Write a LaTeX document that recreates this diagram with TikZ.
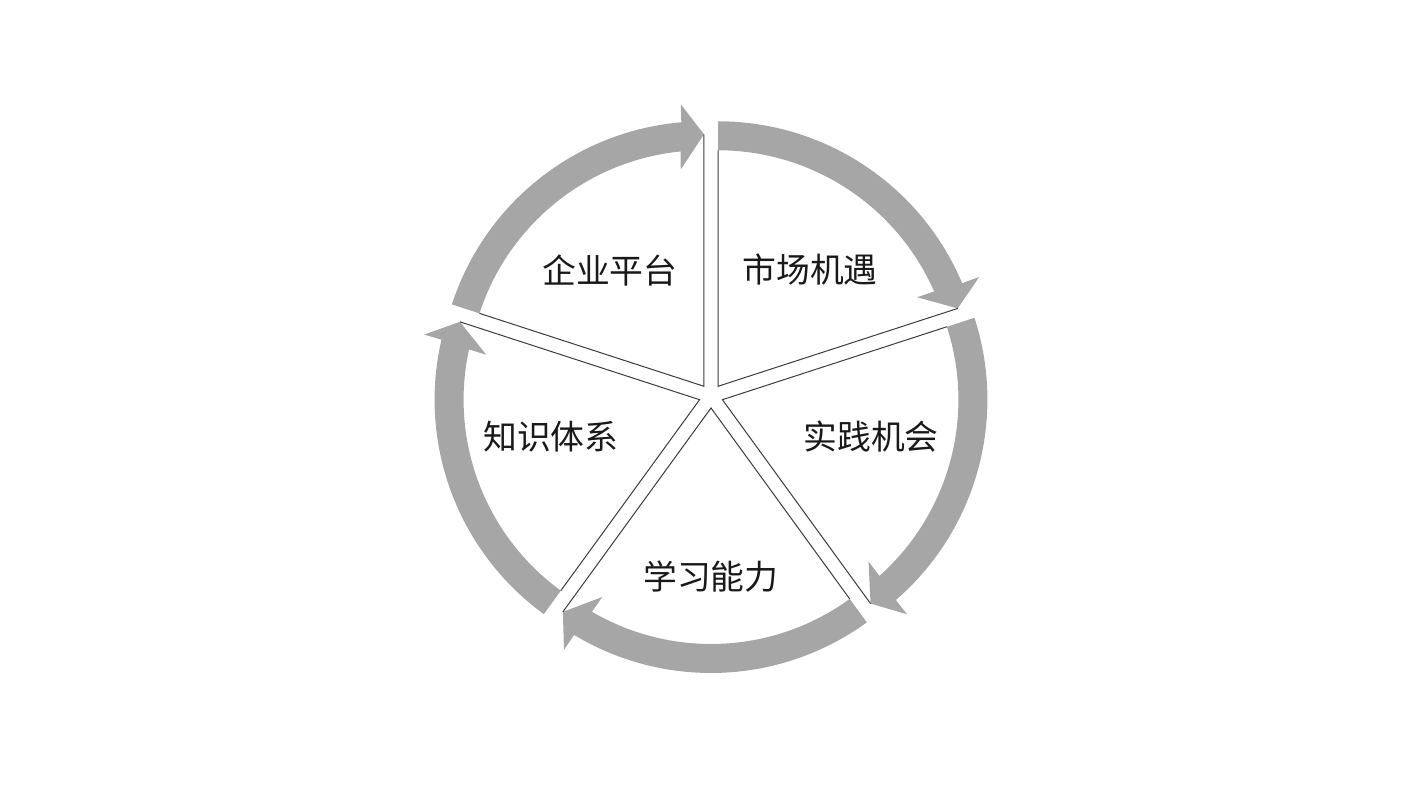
\documentclass[tikz,border=0pt]{standalone}
\usepackage{fontspec}
\newfontfamily\cjk{Noto Sans CJK SC}
\usetikzlibrary{calc}
\definecolor{ringgray}{RGB}{166,166,166}
\definecolor{edgegray}{RGB}{60,60,60}

\begin{document}
\begin{tikzpicture}[
    x=0.5pt, y=0.5pt,
    node font=\cjk\fontsize{16.9}{20}\selectfont,
    ring arrow/.style={fill=ringgray},
    sector edge/.style={draw=edgegray, line width=0.5pt, line join=miter},
    sector label/.style={inner sep=0pt, text=black!90},
]

% Canvas (pixel units, centre of the cycle at the origin)
\useasboundingbox (-711,-394) rectangle (697,396);

% Exploded sectors, each with a clockwise ring arrow
\foreach \mid in {126,54,-18,-90,-162} {
  \begin{scope}[shift={(\mid:12)}]
    \pgfmathsetmacro\from{\mid+36}
    \pgfmathsetmacro\to{\mid-36}
    \pgfmathsetmacro\backout{\mid-31.3}
    \pgfmathsetmacro\backin{\mid-29.9}
    \pgfmathsetmacro\bandout{\mid-31.1}
    \pgfmathsetmacro\bandin{\mid-30.3}
    \fill[ring arrow] (\from:236) -- (\from:265)
      arc[start angle=\from, end angle=\bandout, radius=265]
      -- (\backout:283) -- (\to:252) -- (\backin:218) -- (\bandin:236)
      arc[start angle=\bandin, end angle=\from, radius=236] -- cycle;
    \draw[sector edge] (\from:236) -- (0,0) -- (\to:252);
  \end{scope}
}

% Labels
\node[sector label] (platform)  at (-101,126) {企业平台};
\node[sector label] (market)    at (99,126)   {市场机遇};
\node[sector label] (practice)  at (160,-41)  {实践机会};
\node[sector label] (ability)   at (0,-181)   {学习能力};
\node[sector label] (knowledge) at (-160,-41) {知识体系};

\end{tikzpicture}
\end{document}
